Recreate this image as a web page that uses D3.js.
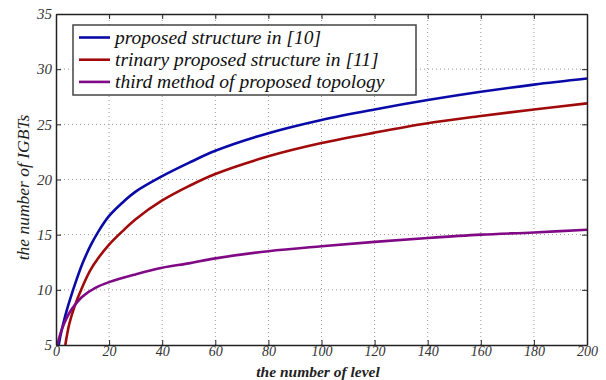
<!DOCTYPE html>
<html>
<head>
<meta charset="utf-8">
<script src="https://cdn.jsdelivr.net/npm/d3@7"></script>
<style>
  body { margin: 0; background: #fff; }
  svg { display: block; }
  text { font-family: "Liberation Serif", "DejaVu Serif", serif; font-style: italic; }
</style>
</head>
<body>
<svg id="chart" width="606" height="380"></svg>
<script>
// data
const blueLevels  = [1, 2, 3, 4, 5, 7, 10, 13, 16, 20, 25, 30, 40, 50, 60, 80, 100, 120, 140, 160, 180, 200];
const blueValues  = [5, 6.2, 7.2, 8.1, 8.9, 10.4, 12.4, 14.0, 15.3, 16.7, 17.9, 18.9, 20.3, 21.5, 22.6, 24.2, 25.4, 26.35, 27.2, 27.95, 28.6, 29.15];

const redLevels   = [3.5, 5, 7, 10, 13, 16, 20, 25, 30, 40, 50, 60, 80, 100, 120, 140, 160, 180, 200];
const redValues   = [5, 6.9, 8.5, 10.3, 11.8, 12.9, 14.1, 15.3, 16.4, 18.1, 19.4, 20.5, 22.1, 23.3, 24.25, 25.1, 25.75, 26.35, 26.9];

const purpleLevels = [0.5, 1.5, 3, 5, 7, 10, 15, 20, 30, 40, 50, 60, 80, 100, 120, 140, 160, 180, 200];
const purpleValues = [5, 5.9, 6.9, 7.9, 8.6, 9.4, 10.2, 10.7, 11.4, 12.0, 12.4, 12.85, 13.5, 13.95, 14.35, 14.7, 15.0, 15.2, 15.45];

const xTicks = [0, 20, 40, 60, 80, 100, 120, 140, 160, 180, 200];
const yTicks = [5, 10, 15, 20, 25, 30, 35];

const seriesNames = ["proposed structure in [10]", "trinary proposed structure in [11]", "third method of proposed topology"];
const seriesColors = ["#0a0aa8", "#a00a0a", "#800a86"];

const series = [
  { levels: blueLevels, values: blueValues },
  { levels: redLevels, values: redValues },
  { levels: purpleLevels, values: purpleValues }
];

const margin = { left: 56, right: 19, top: 14, bottom: 35 };
const width = 606, height = 380;

const svg = d3.select("#chart");

const x = d3.scaleLinear().domain([0, 200]).range([margin.left, width - margin.right]);
const y = d3.scaleLinear().domain([5, 35]).range([height - margin.bottom, margin.top]);

// grid
svg.append("g")
  .selectAll("line")
  .data(xTicks.slice(1, -1))
  .enter().append("line")
  .attr("x1", d => x(d)).attr("x2", d => x(d))
  .attr("y1", y(5)).attr("y2", y(35))
  .attr("stroke", "#999").attr("stroke-width", 1).attr("stroke-dasharray", "1,3");

svg.append("g")
  .selectAll("line")
  .data(yTicks.slice(1, -1))
  .enter().append("line")
  .attr("x1", x(0)).attr("x2", x(200))
  .attr("y1", d => y(d)).attr("y2", d => y(d))
  .attr("stroke", "#999").attr("stroke-width", 1).attr("stroke-dasharray", "1,3");

// curves
const line = d3.line().curve(d3.curveCatmullRom.alpha(0.5));
svg.append("g")
  .selectAll("path")
  .data(series)
  .enter().append("path")
  .attr("d", s => line(s.levels.map((l, i) => [x(l), y(s.values[i])])))
  .attr("fill", "none")
  .attr("stroke", (s, i) => seriesColors[i])
  .attr("stroke-width", 2.6);

// axes, ticks pointing inward like matlab
const styleAxis = (g, size) => {
  g.select(".domain").attr("stroke", "#222").attr("stroke-width", 1.5);
  g.selectAll(".tick line").attr("stroke", "#222").attr("stroke-width", 1);
  g.selectAll("text")
    .attr("fill", "#333")
    .style("font-size", size);
};

svg.append("g")
  .attr("transform", "translate(0," + y(5) + ")")
  .call(d3.axisBottom(x).tickValues(xTicks).tickSizeInner(-5).tickSizeOuter(0).tickPadding(1))
  .call(styleAxis, "14px");

svg.append("g")
  .attr("transform", "translate(0," + y(35) + ")")
  .call(d3.axisTop(x).tickValues(xTicks).tickSizeInner(-5).tickSizeOuter(0).tickFormat(""))
  .call(styleAxis, "14px");

svg.append("g")
  .attr("transform", "translate(" + x(0) + ",0)")
  .call(d3.axisLeft(y).tickValues(yTicks).tickSizeInner(-5).tickSizeOuter(0).tickPadding(4))
  .call(styleAxis, "15px");

svg.append("g")
  .attr("transform", "translate(" + x(200) + ",0)")
  .call(d3.axisRight(y).tickValues(yTicks).tickSizeInner(-5).tickSizeOuter(0).tickFormat(""))
  .call(styleAxis, "15px");

// axis titles
svg.append("text")
  .attr("x", 318)
  .attr("y", 376.5)
  .attr("text-anchor", "middle")
  .attr("fill", "#222")
  .style("font-size", "15.5px")
  .style("font-weight", "bold")
  .text("the number of level");

svg.append("text")
  .attr("transform", "translate(29," + (y(20) + 8) + ") rotate(-90)")
  .attr("text-anchor", "middle")
  .attr("fill", "#222")
  .style("font-size", "17.5px")
  .text("the number of IGBTs");

// legend
const legend = svg.append("g");
legend.append("rect")
  .attr("x", 73).attr("y", 25)
  .attr("width", 343).attr("height", 70)
  .attr("fill", "#fff").attr("stroke", "#444").attr("stroke-width", 1.5);

const rows = legend.selectAll("g.row")
  .data(seriesNames)
  .enter().append("g")
  .attr("class", "row")
  .attr("transform", (d, i) => "translate(0," + (37.5 + i * 22.2) + ")");

rows.append("line")
  .attr("x1", 79).attr("x2", 110)
  .attr("y1", 0).attr("y2", 0)
  .attr("stroke", (d, i) => seriesColors[i])
  .attr("stroke-width", 2.6);

rows.append("text")
  .attr("x", 115).attr("y", 6)
  .attr("fill", "#111")
  .style("font-size", "19.5px")
  .text(d => d);
</script>
</body>
</html>
